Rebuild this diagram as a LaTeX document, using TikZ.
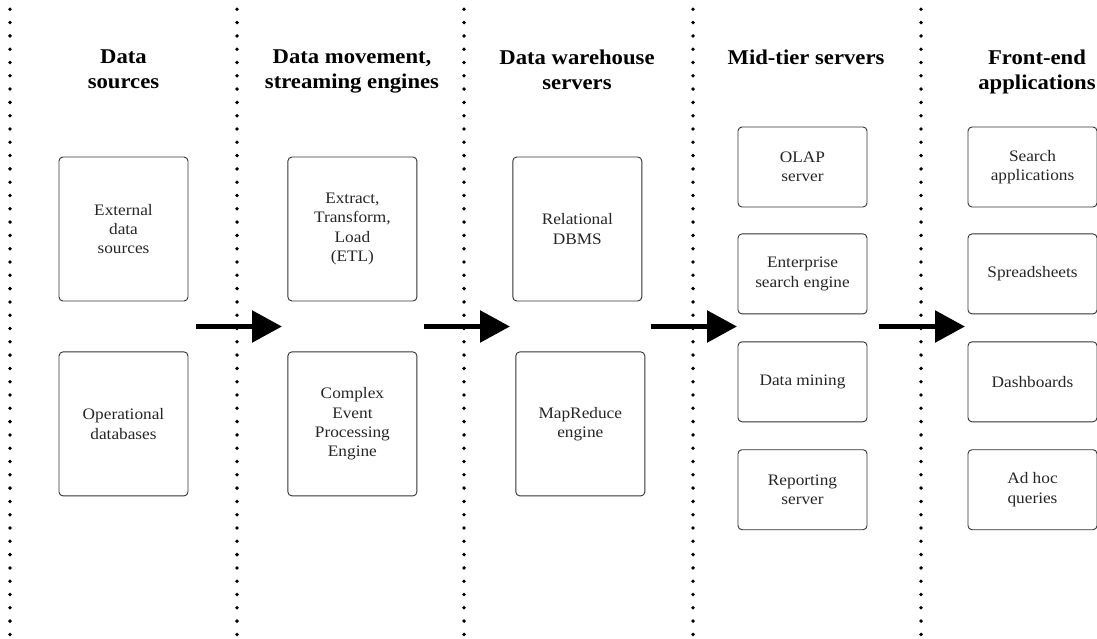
\documentclass[tikz,border=0pt]{standalone}
\usepackage{fontspec}
\setmainfont{Liberation Serif}[FakeStretch=1.08]
\usepackage{tikz}
\usetikzlibrary{positioning, arrows.meta}
\tikzset{tier box/.style={draw=black!80, line width=0.9pt, rounded corners=4pt, align=center,
    minimum width=129pt, text=black!85, font=\fontsize{16}{19.3}\selectfont},
  tall box/.style={tier box, minimum height=144pt},
  short box/.style={tier box, minimum height=80pt},
  tier head/.style={anchor=north, inner sep=0pt, align=center, font=\fontsize{21}{24.5}\selectfont\bfseries},
  flow arrow/.style={-{Triangle[length=30pt,width=31pt]}, line width=5.5pt}}

\begin{document}
\begin{tikzpicture}[x=1pt, y=-1pt]
			\useasboundingbox (0,0) rectangle (1097,639);
			% dotted separators
			\foreach \x in {10,237,464,693,921}
				\draw[line width=3.8pt, line cap=round, dash pattern=on 0pt off 13.3pt] (\x,-4) -- (\x,645);
			
			\node[tier head] (h1) at (123.5,50) {Data\\sources};
			\node[tier head] (h2) at (352,50) {Data movement,\\streaming engines};
			\node[tier head] (h3) at (577,50) {Data warehouse\\servers};
			\node[tier head] (h4) at (806,50) {Mid-tier servers};
			\node[tier head] (h5) at (1037,50) {Front-end\\applications};
			
			\node[tall box] (ext) at (123.5,229) {External\\data\\sources};
			\node[tall box, below=50pt of ext] (ops) {Operational\\databases};
			\node[tall box, right=99pt of ext] (etl) {Extract,\\Transform,\\Load\\(ETL)};
			\node[tall box, below=50pt of etl] (cep) {Complex\\Event\\Processing\\Engine};
			\node[tall box, right=95pt of etl] (rdb) {Relational\\DBMS};
			\node[tall box, below=50pt of rdb, xshift=3pt] (mr) {MapReduce\\engine};
			
			\node[short box] (olap) at (802.5,167) {OLAP\\server};
			\node[short box, below=26pt of olap] (ese) {Enterprise\\search engine};
			\node[short box, below=27pt of ese] (dm) {Data mining};
			\node[short box, below=27pt of dm] (rep) {Reporting\\server};
			
			\node[short box] (sapp) at (1032.5,167) {Search\\applications};
			\node[short box, below=26pt of sapp] (ss) {Spreadsheets};
			\node[short box, below=27pt of ss] (dash) {Dashboards};
			\node[short box, below=27pt of dash] (adhoc) {Ad hoc\\queries};
			
			\coordinate (a1) at (196,326.5); \coordinate (b1) at (282,326.5);
			\coordinate (a2) at (424,326.5); \coordinate (b2) at (510,326.5);
			\coordinate (a3) at (651,326.5); \coordinate (b3) at (737,326.5);
			\coordinate (a4) at (879,326.5); \coordinate (b4) at (965,326.5);
			\foreach \i in {1,...,4}
				\draw[flow arrow] (a\i) -- (b\i);
		\end{tikzpicture}
\end{document}
